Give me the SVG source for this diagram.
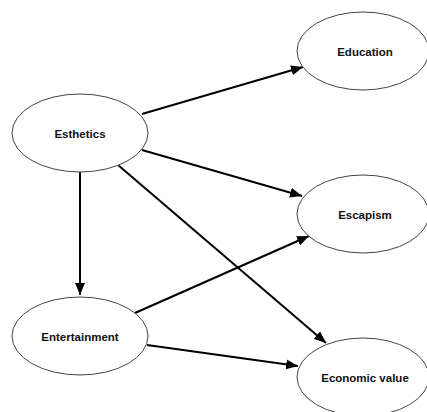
<svg xmlns="http://www.w3.org/2000/svg" width="427" height="412" viewBox="0 0 427 412">
<style>
.node ellipse{fill:#fff;stroke:#444;stroke-width:1}
.node text{font-family:"Liberation Sans",Arial,sans-serif;font-weight:bold;font-size:11.5px;fill:#111;text-anchor:middle;dominant-baseline:central}
.edges line{stroke:#000;stroke-width:2;marker-end:url(#ah)}
</style>
<defs>
<marker id="ah" viewBox="0 0 12 10" refX="12" refY="5" markerWidth="12" markerHeight="10" markerUnits="userSpaceOnUse" orient="auto">
<path d="M0,0 L12,5 L0,10 Z" fill="#000"/>
</marker>
</defs>
<rect width="427" height="412" fill="#fff"/>
<g class="edges">
<line x1="142" y1="114" x2="303" y2="67"/>
<line x1="142" y1="150" x2="302" y2="196"/>
<line x1="80" y1="172" x2="80" y2="295"/>
<line x1="118" y1="165" x2="326" y2="343"/>
<line x1="135" y1="313" x2="309" y2="236"/>
<line x1="147" y1="345" x2="298" y2="366"/>
</g>
<g id="esthetics" class="node"><ellipse cx="80" cy="133" rx="68" ry="39"/><text x="80" y="134">Esthetics</text></g>
<g id="education" class="node"><ellipse cx="363" cy="51" rx="66" ry="39"/><text x="365" y="52">Education</text></g>
<g id="escapism" class="node"><ellipse cx="363" cy="214" rx="66" ry="39"/><text x="365" y="215">Escapism</text></g>
<g id="entertainment" class="node"><ellipse cx="80" cy="336" rx="68" ry="39"/><text x="80" y="337">Entertainment</text></g>
<g id="economic" class="node"><ellipse cx="363" cy="377" rx="66" ry="39"/><text x="365" y="378">Economic value</text></g>
</svg>
